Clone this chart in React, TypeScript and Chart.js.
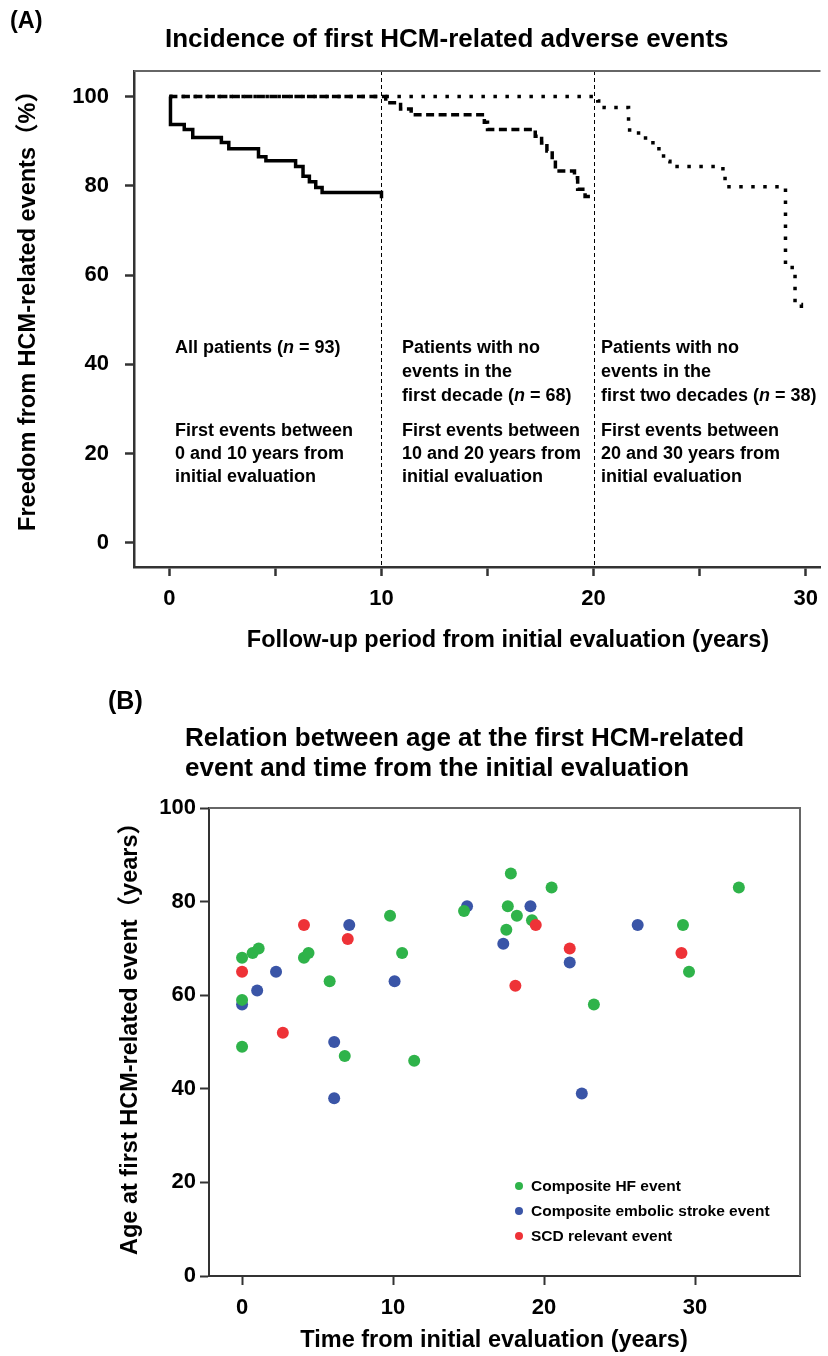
import React, { useEffect, useRef } from "react";
import { Chart, registerables } from "chart.js";
Chart.register(...registerables);

// ---------- Panel A: Kaplan-Meier style curves ----------
const allPatientsYears = [0, 0.05, 0.7, 1.1, 2.45, 2.8, 4.2, 4.55, 5.95, 6.3, 6.6, 6.9, 7.2, 10];
const allPatientsFree = [100, 93.7, 92.6, 90.8, 89.7, 88.3, 86.5, 85.6, 84.3, 82.1, 80.9, 79.6, 78.5, 77.2];

const noEventDecadeYears = [0, 10.05, 10.2, 10.9, 11.4, 14.85, 15.0, 17.25, 17.55, 17.8, 18.05, 18.2, 19.1, 19.25, 19.6, 20];
const noEventDecadeFree = [100, 100, 98.6, 97.2, 95.9, 94.2, 92.6, 91.1, 89.6, 87.8, 85.8, 83.3, 81.8, 79.2, 77.6, 77.6];

const noEventTwoDecadesYears = [0, 20.2, 20.5, 21.65, 21.7, 22.45, 22.8, 23.3, 23.6, 26.1, 26.2, 29.05, 29.5, 29.8];
const noEventTwoDecadesFree = [100, 99, 97.5, 94.5, 91.8, 90.1, 88.3, 85.5, 84.3, 82.7, 79.8, 61.7, 53.4, 51.8];

const panelAXTicks = [0, 5, 10, 15, 20, 25, 30];
const panelAYTicks = [0, 20, 40, 60, 80, 100];
const dividerYears = [10, 20];

// ---------- Panel B: scatter ----------
const hfTime = [0, 0.7, 1.1, 0, 0, 4.1, 4.4, 5.8, 6.8, 9.8, 10.6, 11.4, 14.7, 17.5, 17.6, 17.8, 18.2, 19.2, 20.5, 23.3, 29.2, 29.6, 32.9];
const hfAge = [68, 69, 70, 59, 49, 68, 69, 63, 47, 77, 69, 46, 78, 74, 79, 86, 77, 76, 83, 58, 75, 65, 83];

const strokeTime = [0, 1.0, 2.25, 6.1, 6.1, 7.1, 10.1, 14.9, 17.3, 19.1, 21.7, 22.5, 26.2];
const strokeAge = [58, 61, 65, 50, 38, 75, 63, 79, 71, 79, 67, 39, 75];

const scdTime = [0, 2.7, 4.1, 7.0, 18.1, 19.45, 21.7, 29.1];
const scdAge = [65, 52, 75, 72, 62, 75, 70, 69];

const panelBXTicks = [0, 10, 20, 30];
const panelBYTicks = [0, 20, 40, 60, 80, 100];

const legendLabels = ["Composite HF event", "Composite embolic stroke event", "SCD relevant event"];
const GREEN = "#2fb34a";
const BLUE = "#3a55a7";
const RED = "#ee3237";
const legendColors = [GREEN, BLUE, RED];

const FONT = "'Liberation Sans', Arial, Helvetica, 'Noto Sans CJK JP', sans-serif";

const zip = (xs: number[], ys: number[]) => xs.map((x, i) => ({ x, y: ys[i] }));

const framePlugin = (right: boolean, dividers: number[]) => ({
  id: "frame" + (right ? "R" : "") + dividers.length,
  beforeDatasetsDraw(chart: any) {
    const { ctx, chartArea } = chart;
    const xs = chart.scales.x;
    ctx.save();
    ctx.strokeStyle = "#000";
    ctx.lineWidth = 1;
    ctx.setLineDash([4, 3]);
    dividers.forEach((d) => {
      const px = Math.round(xs.getPixelForValue(d)) + 0.5;
      ctx.beginPath();
      ctx.moveTo(px, chartArea.top);
      ctx.lineTo(px, chartArea.bottom);
      ctx.stroke();
    });
    ctx.restore();
  },
  afterDraw(chart: any) {
    const { ctx, chartArea } = chart;
    ctx.save();
    ctx.strokeStyle = "#666";
    ctx.lineWidth = 2;
    ctx.beginPath();
    ctx.moveTo(chartArea.left, chartArea.top);
    ctx.lineTo(chartArea.right, chartArea.top);
    if (right) ctx.lineTo(chartArea.right, chartArea.bottom);
    ctx.stroke();
    ctx.restore();
  },
});

const tickFont = { family: FONT, size: 22, weight: "bold" as const };

function PanelA() {
  const ref = useRef<HTMLCanvasElement>(null);
  useEffect(() => {
    const ctx = ref.current!.getContext("2d")!;
    const common = { stepped: true, borderColor: "#000", pointRadius: 0, fill: false, borderCapStyle: "butt" as const };
    const chart = new Chart(ctx, {
      type: "line",
      data: {
        datasets: [
          { ...common, data: zip(allPatientsYears, allPatientsFree), borderWidth: 3.5 },
          { ...common, data: zip(noEventDecadeYears, noEventDecadeFree), borderWidth: 3.5, borderDash: [8, 4.5] },
          { ...common, data: zip(noEventTwoDecadesYears, noEventTwoDecadesFree), borderWidth: 3.5, borderDash: [3.5, 8.5] },
        ],
      },
      options: {
        animation: false,
        responsive: false,
        maintainAspectRatio: false,
        layout: { padding: { left: 0, right: 6, top: 71, bottom: 0 } },
        plugins: { legend: { display: false }, tooltip: { enabled: false } },
        scales: {
          x: {
            type: "linear",
            min: -1.67,
            max: 30.7,
            afterBuildTicks: (s: any) => { s.ticks = panelAXTicks.map((v) => ({ value: v })); },
            afterFit: (s: any) => { s.height = 93; },
            grid: { drawOnChartArea: false, drawTicks: true, tickLength: 9, tickWidth: 2.5, tickColor: "#333" },
            border: { display: true, color: "#333", width: 2.5 },
            ticks: {
              callback: (v: any) => (Number(v) % 10 === 0 ? String(v) : ""),
              font: tickFont, color: "#000", padding: 10, maxRotation: 0, autoSkip: false,
            },
          },
          y: {
            type: "linear",
            min: -5.4,
            max: 105.7,
            afterBuildTicks: (s: any) => { s.ticks = panelAYTicks.map((v) => ({ value: v })); },
            afterFit: (s: any) => { s.width = 134; },
            grid: { drawOnChartArea: false, drawTicks: true, tickLength: 9, tickWidth: 2.5, tickColor: "#333" },
            border: { display: true, color: "#333", width: 2.5 },
            ticks: { font: tickFont, color: "#000", padding: 16, autoSkip: false },
          },
        },
      },
      plugins: [framePlugin(false, dividerYears)],
    });
    return () => chart.destroy();
  }, []);
  return <canvas ref={ref} width={828} height={660} style={{ position: "absolute", left: 0, top: 0, width: 828, height: 660 }} />;
}

function PanelB() {
  const ref = useRef<HTMLCanvasElement>(null);
  useEffect(() => {
    const ctx = ref.current!.getContext("2d")!;
    const pt = { pointRadius: 6, pointBorderWidth: 0, showLine: false };
    const chart = new Chart(ctx, {
      type: "scatter",
      data: {
        datasets: [
          { ...pt, label: legendLabels[2], data: zip(scdTime, scdAge), backgroundColor: RED, borderColor: RED },
          { ...pt, label: legendLabels[0], data: zip(hfTime, hfAge), backgroundColor: GREEN, borderColor: GREEN },
          { ...pt, label: legendLabels[1], data: zip(strokeTime, strokeAge), backgroundColor: BLUE, borderColor: BLUE },
        ],
      },
      options: {
        animation: false,
        responsive: false,
        maintainAspectRatio: false,
        layout: { padding: { left: 0, right: 28, top: 128, bottom: 0 } },
        plugins: { legend: { display: false }, tooltip: { enabled: false } },
        scales: {
          x: {
            type: "linear",
            min: -2.19,
            max: 36.95,
            afterBuildTicks: (s: any) => { s.ticks = panelBXTicks.map((v) => ({ value: v })); },
            afterFit: (s: any) => { s.height = 80; },
            grid: { drawOnChartArea: false, drawTicks: true, tickLength: 9, tickWidth: 2, tickColor: "#333" },
            border: { display: true, color: "#333", width: 2 },
            ticks: { font: tickFont, color: "#000", padding: 10, maxRotation: 0, autoSkip: false },
          },
          y: {
            type: "linear",
            min: 0,
            max: 100,
            afterBuildTicks: (s: any) => { s.ticks = panelBYTicks.map((v) => ({ value: v })); },
            afterFit: (s: any) => { s.width = 209; },
            grid: { drawOnChartArea: false, drawTicks: true, tickLength: 9, tickWidth: 2, tickColor: "#333" },
            border: { display: true, color: "#333", width: 2 },
            ticks: { font: tickFont, color: "#000", padding: 4, autoSkip: false },
          },
        },
      },
      plugins: [framePlugin(true, [])],
    });
    return () => chart.destroy();
  }, []);
  return <canvas ref={ref} width={828} height={676} style={{ position: "absolute", left: 0, top: 680, width: 828, height: 676 }} />;
}

type TProps = { x: number; y: number; size: number; children: React.ReactNode; center?: boolean; rotate?: boolean };
function T({ x, y, size, children, center, rotate }: TProps) {
  let transform = "translateY(-50%)";
  if (center) transform = "translate(-50%, -50%)";
  if (rotate) transform = "translate(-50%, -50%) rotate(-90deg)";
  return (
    <div
      style={{
        position: "absolute", left: x, top: y, fontFamily: FONT, fontWeight: "bold", fontSize: size,
        lineHeight: 1, whiteSpace: "nowrap", color: "#000", transform,
      }}
    >
      {children}
    </div>
  );
}

export default function App() {
  const colX = [175, 402, 601];
  const ann = 18;
  return (
    <div style={{ position: "absolute", left: 0, top: 0, width: 828, height: 1356, background: "#fff", overflow: "hidden" }}>
      <PanelA />
      <PanelB />
      <T x={10} y={21} size={23.5}>(A)</T>
      <T x={165} y={38} size={26}>Incidence of first HCM-related adverse events</T>
      <T x={28} y={305} size={23.5} rotate>Freedom from HCM-related events（%）</T>
      <T x={508} y={640} size={23.5} center>Follow-up period from initial evaluation (years)</T>

      <T x={colX[0]} y={347} size={ann}>All patients (<i>n</i> = 93)</T>
      <T x={colX[0]} y={430} size={ann}>First events between</T>
      <T x={colX[0]} y={453} size={ann}>0 and 10 years from</T>
      <T x={colX[0]} y={476} size={ann}>initial evaluation</T>

      <T x={colX[1]} y={347} size={ann}>Patients with no</T>
      <T x={colX[1]} y={371} size={ann}>events in the</T>
      <T x={colX[1]} y={395} size={ann}>first decade (<i>n</i> = 68)</T>
      <T x={colX[1]} y={430} size={ann}>First events between</T>
      <T x={colX[1]} y={453} size={ann}>10 and 20 years from</T>
      <T x={colX[1]} y={476} size={ann}>initial evaluation</T>

      <T x={colX[2]} y={347} size={ann}>Patients with no</T>
      <T x={colX[2]} y={371} size={ann}>events in the</T>
      <T x={colX[2]} y={395} size={ann}>first two decades (<i>n</i> = 38)</T>
      <T x={colX[2]} y={430} size={ann}>First events between</T>
      <T x={colX[2]} y={453} size={ann}>20 and 30 years from</T>
      <T x={colX[2]} y={476} size={ann}>initial evaluation</T>

      <T x={108} y={700} size={25}>(B)</T>
      <T x={185} y={737} size={26}>Relation between age at the first HCM-related</T>
      <T x={185} y={767} size={26}>event and time from the initial evaluation</T>
      <T x={130} y={1033} size={23.5} rotate>Age at first HCM-related event（years）</T>
      <T x={494} y={1340} size={23.5} center>Time from initial evaluation (years)</T>

      {legendLabels.map((lab, i) => (
        <React.Fragment key={lab}>
          <div style={{ position: "absolute", left: 515, top: 1182 + i * 25, width: 8, height: 8, borderRadius: 4, background: legendColors[i] }} />
          <T x={531} y={1186 + i * 25} size={15.5}>{lab}</T>
        </React.Fragment>
      ))}
    </div>
  );
}
